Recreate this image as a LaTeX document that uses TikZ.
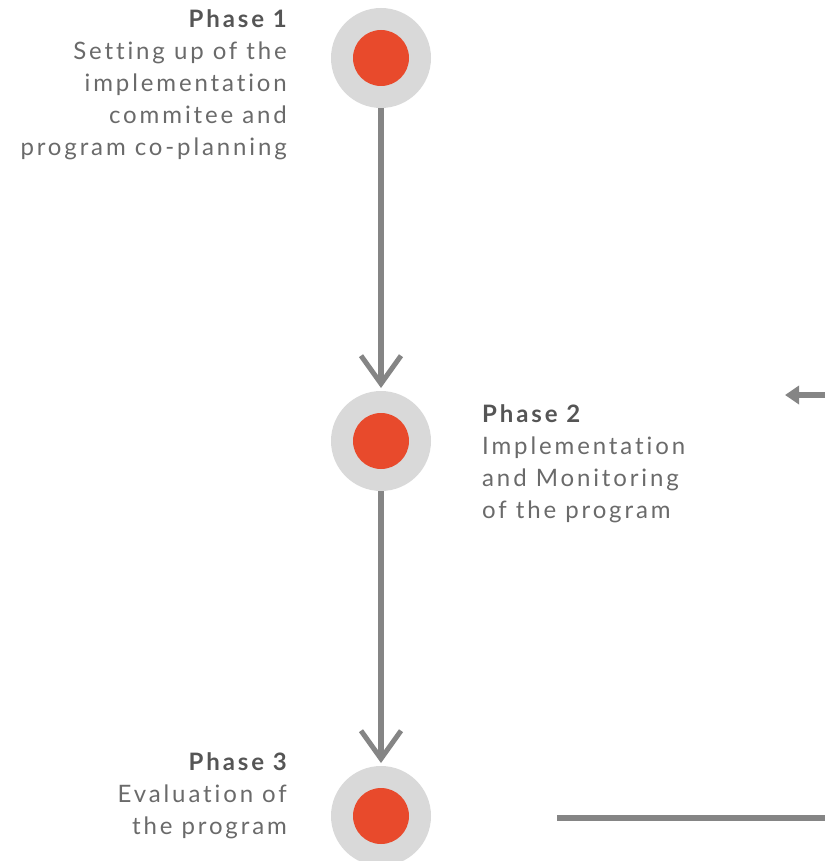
\documentclass[tikz,border=0pt]{standalone}
\usepackage{fontspec}
\setmainfont{Lato}[LetterSpace=12, Ligatures=NoCommon]
\usepackage{xcolor}
\usetikzlibrary{arrows.meta,positioning}
\definecolor{ringgray}{HTML}{D9D9D9}
\definecolor{dotred}{HTML}{E84A2C}
\definecolor{linegray}{HTML}{858585}
\definecolor{headgray}{HTML}{555555}
\definecolor{bodygray}{HTML}{6A6A6A}
\begin{document}
\begin{tikzpicture}[
  x=1pt, y=-1pt,
  font=\fontsize{24}{32}\selectfont,
  ring/.style={circle, fill=ringgray, minimum size=100pt, inner sep=0pt, outer sep=0pt},
  dot/.style={circle, fill=dotred, minimum size=56pt, inner sep=0pt},
  flow/.style={draw=linegray, line width=6pt, -{Straight Barb[length=28pt, width=40pt, line width=5pt]}, shorten >=3pt},
  plain/.style={draw=linegray, line width=5.5pt},
  phase/.style={text=bodygray, inner sep=0pt}
]
\useasboundingbox (0,0) rectangle (825,861);

\node[ring] (p1) at (381,58) {};
\node[ring] (p2) at (381,441) {};
\node[ring] (p3) at (381,816) {};
\node[dot] (d1) at (p1) {};
\node[dot] (d2) at (p2) {};
\node[dot] (d3) at (p3) {};

\draw[flow] (p1) -- (p2);
\draw[flow] (p2) -- (p3);

% side links
\coordinate (inA) at (825,395);
\coordinate (inB) at (785,395);
\draw[draw=linegray, line width=6pt, -{Triangle[length=14pt, width=18pt]}] (inA) -- (inB);
\coordinate (outA) at (557,818);
\coordinate (outB) at (825,818);
\draw[plain] (outA) -- (outB);

\node[phase, align=right, anchor=north east] (t1) at (287,9)
  {{\bfseries\color{headgray}Phase 1}\\Setting up of the\\implementation\\commitee and\\program co-planning};
\node[phase, align=left, anchor=north west] (t2) at (482,404)
  {{\bfseries\color{headgray}Phase 2}\\Implementation\\and Monitoring\\of the program};
\node[phase, align=right, anchor=north east] (t3) at (287,752)
  {{\bfseries\color{headgray}Phase 3}\\Evaluation of\\the program};
\end{tikzpicture}
\end{document}
